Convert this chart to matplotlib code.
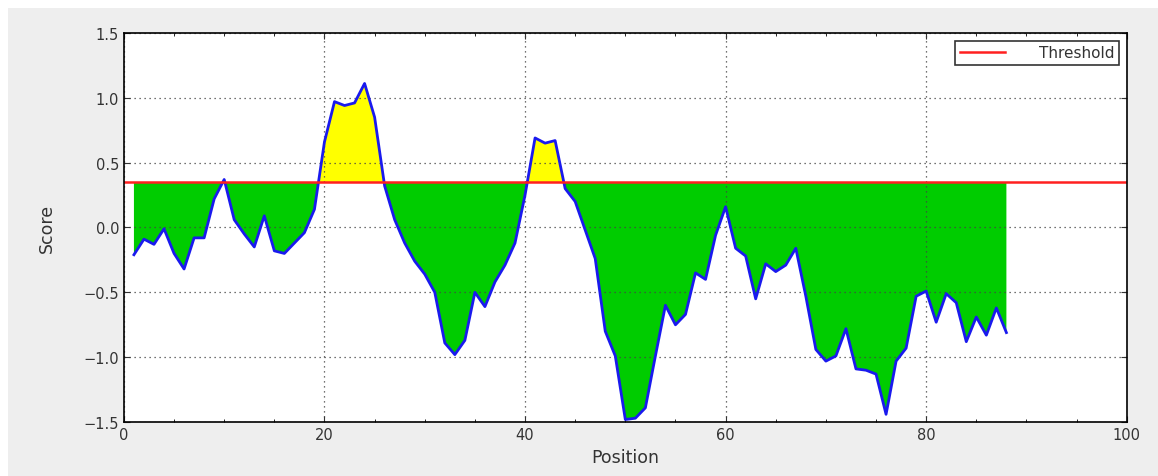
import numpy as np
import matplotlib
matplotlib.use("Agg")
from matplotlib import pyplot as plt
from matplotlib.patches import Rectangle

positions = np.arange(1, 89)
scores = np.array([
    -0.21, -0.09, -0.13, -0.01, -0.20, -0.32, -0.08, -0.08, 0.22, 0.37,
    0.06, -0.05, -0.15, 0.09, -0.18, -0.20, -0.12, -0.04, 0.14, 0.66,
    0.97, 0.94, 0.96, 1.11, 0.85, 0.32, 0.06, -0.12, -0.26, -0.36,
    -0.50, -0.89, -0.98, -0.87, -0.50, -0.61, -0.42, -0.29, -0.12, 0.25,
    0.69, 0.65, 0.67, 0.30, 0.20, -0.02, -0.24, -0.80, -0.99, -1.48,
    -1.47, -1.39, -0.99, -0.60, -0.75, -0.67, -0.35, -0.40, -0.06, 0.16,
    -0.16, -0.22, -0.55, -0.28, -0.34, -0.29, -0.16, -0.53, -0.94, -1.03,
    -0.99, -0.78, -1.09, -1.10, -1.13, -1.44, -1.03, -0.93, -0.53, -0.49,
    -0.73, -0.51, -0.58, -0.88, -0.69, -0.83, -0.62, -0.81,
])
threshold = 0.35

fig = plt.figure(figsize=(11.58, 4.77), dpi=100, facecolor='white')
fig.patches.append(Rectangle((8 / 1158, 0), 1, 1 - 9 / 477, transform=fig.transFigure,
                             facecolor='#eeeeee', edgecolor='none', zorder=-10))
ax = fig.add_axes([0.107, 0.113, 0.866, 0.816])

ax.fill_between(positions, scores, threshold, where=scores >= threshold,
                interpolate=True, color='#ffff00', linewidth=0)
ax.fill_between(positions, scores, threshold, where=scores < threshold,
                interpolate=True, color='#00cc00', linewidth=0)
ax.plot(positions, scores, color='#1a1aee', linewidth=2)
ax.axhline(threshold, color='#ff2020', linewidth=1.8, label='Threshold')

ax.set_xlim(0, 100)
ax.set_ylim(-1.5, 1.5)
ax.set_xticks(np.arange(0, 101, 20))
ax.set_xticks(np.arange(0, 101, 5), minor=True)
ax.set_yticks(np.arange(-1.5, 1.51, 0.5))
ax.grid(True, color='#444444', linestyle=(0, (1, 3)), linewidth=0.9)
ax.tick_params(direction='in', top=True, right=True, labelsize=10.5, colors='#333333', length=4)
ax.tick_params(which='minor', direction='in', top=True, right=False, length=2)
for s in ax.spines.values():
    s.set_linewidth(1.2)
ax.set_xlabel('Position', fontsize=12.5, color='#333333', labelpad=4)
ax.set_ylabel('Score', fontsize=12.5, color='#333333', labelpad=20)

leg = ax.legend(loc='upper right', fancybox=False, fontsize=11, handlelength=3,
                handletextpad=2.2, borderaxespad=0.5, borderpad=0.3)
leg.get_frame().set_edgecolor('black')
leg.get_frame().set_linewidth(1.2)
for t in leg.get_texts():
    t.set_color('#333333')

fig.savefig('out.png', dpi=100, facecolor=fig.get_facecolor())
